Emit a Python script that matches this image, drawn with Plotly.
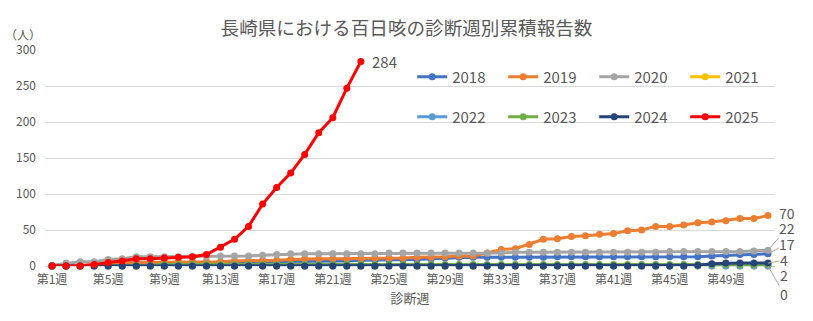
import plotly.graph_objects as go

weeks = list(range(1, 53))
week_labels = ["第%d週" % w for w in weeks]
tick_weeks = [1, 5, 9, 13, 17, 21, 25, 29, 33, 37, 41, 45, 49]

y2018 = [0, 0, 1, 1, 2, 2, 3, 3, 4, 4,
         4, 5, 5, 5, 6, 6, 6, 6, 7, 7,
         7, 7, 8, 8, 9, 9, 9, 10, 11, 12,
         12, 12, 12, 12, 12, 12, 13, 13, 13, 13,
         13, 13, 13, 13, 13, 13, 13, 14, 15, 16, 16, 17]
y2019 = [0, 0, 1, 2, 4, 5, 5, 5, 6, 6,
         6, 6, 6, 7, 7, 8, 8, 9, 10, 10,
         10, 10, 10, 11, 11, 11, 12, 12, 13, 14,
         14, 18, 23, 24, 30, 37, 38, 41, 42, 44,
         45, 49, 50, 55, 55, 57, 60, 61, 63, 66, 66, 70]
y2020 = [1, 4, 6, 6, 9, 10, 13, 13, 13, 13,
         13, 13, 14, 14, 14, 15, 16, 17, 17, 17,
         17, 17, 17, 17, 18, 18, 18, 18, 18, 18,
         18, 18, 18, 19, 19, 19, 19, 19, 19, 19,
         19, 19, 19, 19, 20, 20, 20, 20, 20, 20, 21, 22]
y2021 = [0] * 52
y2022 = [0] * 52
y2023 = [0, 0, 0, 1, 1, 1, 1, 1, 2, 2,
         2, 2, 2, 2, 2, 2, 2, 2, 2, 2,
         2, 2, 2, 2, 2, 2, 2, 2, 2, 2,
         2, 2, 2, 2, 2, 2, 2, 2, 2, 2,
         2, 2, 2, 2, 2, 2, 2, 2, 2, 2, 2, 2]
y2024 = [0] * 46 + [1, 3, 4, 4, 4, 4]
y2025 = [0, 0, 0, 2, 5, 7, 10, 10, 11, 12,
         13, 16, 26, 37, 55, 86, 109, 129, 155, 185,
         206, 247, 284]

series = [
    ("2018", y2018, "#4472C4"),
    ("2019", y2019, "#ED7D31"),
    ("2020", y2020, "#A5A5A5"),
    ("2021", y2021, "#FFC000"),
    ("2022", y2022, "#5B9BD5"),
    ("2023", y2023, "#70AD47"),
    ("2024", y2024, "#264478"),
    ("2025", y2025, "#FF0000"),
]

FONT = "Noto Sans CJK JP"
GREY = "#595959"

fig = go.Figure()
for i, (name, vals, color) in enumerate(series):
    fig.add_trace(go.Scatter(
        x=week_labels[:len(vals)], y=vals, name=name,
        mode="lines+markers",
        line=dict(color=color, width=3),
        marker=dict(color=color, size=7),
        cliponaxis=False,
        legend="legend" if i < 4 else "legend2",
    ))

# end-of-series labels
end_labels = [
    (y2019, 19, -3, False),
    (y2020, 19, -22, True),
    (y2018, 19, -10, True),
    (y2024, 16, -3, True),
    (y2023, 16, 10, True),
    (y2022, 16, 28, True),
]
for vals, ax, ay, arrow in end_labels:
    fig.add_annotation(
        x=week_labels[len(vals) - 1], y=vals[-1], text=str(vals[-1]),
        showarrow=True, arrowhead=0, arrowwidth=1, borderpad=0,
        arrowcolor="#A6A6A6" if arrow else "rgba(0,0,0,0)",
        ax=ax, ay=ay, axref="pixel", ayref="pixel",
        font=dict(family=FONT, size=14, color=GREY),
    )
fig.add_annotation(
    x=week_labels[len(y2025) - 1], y=y2025[-1], text=str(y2025[-1]),
    showarrow=False, xanchor="left", xshift=9,
    font=dict(family=FONT, size=15, color=GREY),
)
fig.add_annotation(
    xref="paper", yref="paper", x=-0.03, y=1.07, text="（人）",
    showarrow=False, xanchor="center", yanchor="middle",
    font=dict(family=FONT, size=12, color=GREY),
)

legend_style = dict(
    orientation="h", xanchor="left", yanchor="middle",
    bgcolor="rgba(0,0,0,0)", entrywidth=46, entrywidthmode="pixels",
    font=dict(family=FONT, size=15, color=GREY),
    itemwidth=30,
)

fig.update_layout(
    width=813, height=321,
    margin=dict(l=45, r=38, t=50, b=55),
    paper_bgcolor="white", plot_bgcolor="white",
    title=dict(text="長崎県における百日咳の診断週別累積報告数",
               x=0.5, xanchor="center", y=0.91, yanchor="middle",
               font=dict(family=FONT, size=18.6, color=GREY)),
    legend=dict(x=0.503, y=0.875, **legend_style),
    legend2=dict(x=0.503, y=0.69, **legend_style),
    showlegend=True,
    xaxis=dict(
        type="category", categoryorder="array", categoryarray=week_labels,
        range=[-0.5, 51.5], tickmode="array",
        tickvals=["第%d週" % w for w in tick_weeks],
        ticktext=["第%d週" % w for w in tick_weeks],
        showgrid=False, zeroline=False, showline=False, ticks="",
        ticklabelstandoff=5,
        tickfont=dict(family=FONT, size=12, color=GREY),
        title=dict(text="診断週", standoff=7,
                   font=dict(family=FONT, size=13, color=GREY)),
    ),
    yaxis=dict(
        range=[0, 300], tickvals=[0, 50, 100, 150, 200, 250, 300],
        showgrid=True, gridcolor="#D9D9D9", gridwidth=1,
        zeroline=True, zerolinecolor="#D9D9D9", zerolinewidth=1,
        showline=False, ticks="", ticklabelstandoff=8,
        tickfont=dict(family=FONT, size=12, color=GREY),
    ),
)

fig.write_html("out.html")
